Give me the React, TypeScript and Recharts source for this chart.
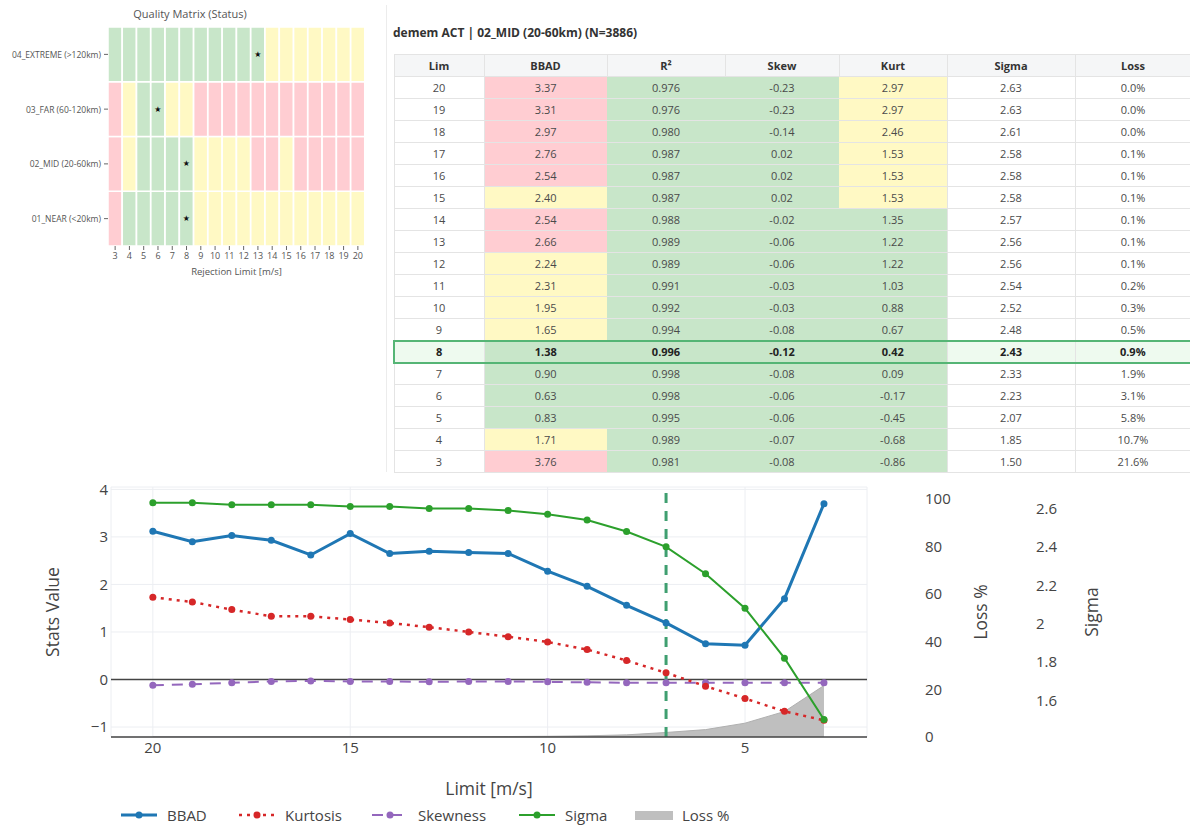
import React from 'react';
import {
  BarChart, Bar, Cell, LabelList, XAxis, YAxis, Label,
  ComposedChart, Line, Area, CartesianGrid, ReferenceLine, Legend,
} from 'recharts';

const FONT = '"Open Sans", "Noto Sans", sans-serif';

// ---- quality matrix (heatmap) ----
const MATRIX_LIMITS = [3, 4, 5, 6, 7, 8, 9, 10, 11, 12, 13, 14, 15, 16, 17, 18, 19, 20];
const MATRIX_ROW_NAMES = ['01_NEAR (<20km)', '02_MID (20-60km)', '03_FAR (60-120km)', '04_EXTREME (>120km)'];
const NEAR_STATUS = ['r', 'g', 'g', 'g', 'g', 'g', 'y', 'y', 'y', 'y', 'y', 'y', 'y', 'y', 'y', 'y', 'y', 'y'];
const MID_STATUS = ['r', 'y', 'g', 'g', 'g', 'g', 'y', 'y', 'y', 'y', 'r', 'r', 'y', 'r', 'r', 'r', 'r', 'r'];
const FAR_STATUS = ['r', 'y', 'g', 'g', 'y', 'y', 'r', 'r', 'r', 'r', 'r', 'r', 'r', 'r', 'r', 'r', 'r', 'r'];
const EXTREME_STATUS = ['g', 'g', 'g', 'g', 'g', 'g', 'g', 'g', 'g', 'g', 'g', 'y', 'y', 'y', 'y', 'y', 'y', 'y'];
const BEST_LIMIT = { near: 8, mid: 8, far: 6, extreme: 13 };

// ---- table ----
const TABLE_LIMITS = [20, 19, 18, 17, 16, 15, 14, 13, 12, 11, 10, 9, 8, 7, 6, 5, 4, 3];
const TABLE_BBAD = [3.37, 3.31, 2.97, 2.76, 2.54, 2.40, 2.54, 2.66, 2.24, 2.31, 1.95, 1.65, 1.38, 0.90, 0.63, 0.83, 1.71, 3.76];
const TABLE_BBAD_STATUS = ['r', 'r', 'r', 'r', 'r', 'y', 'r', 'r', 'y', 'y', 'y', 'y', 'g', 'g', 'g', 'g', 'y', 'r'];
const TABLE_R2 = [0.976, 0.976, 0.980, 0.987, 0.987, 0.987, 0.988, 0.989, 0.989, 0.991, 0.992, 0.994, 0.996, 0.998, 0.998, 0.995, 0.989, 0.981];
const TABLE_SKEW = [-0.23, -0.23, -0.14, 0.02, 0.02, 0.02, -0.02, -0.06, -0.06, -0.03, -0.03, -0.08, -0.12, -0.08, -0.06, -0.06, -0.07, -0.08];
const TABLE_KURT = [2.97, 2.97, 2.46, 1.53, 1.53, 1.53, 1.35, 1.22, 1.22, 1.03, 0.88, 0.67, 0.42, 0.09, -0.17, -0.45, -0.68, -0.86];
const TABLE_KURT_STATUS = ['y', 'y', 'y', 'y', 'y', 'y', 'g', 'g', 'g', 'g', 'g', 'g', 'g', 'g', 'g', 'g', 'g', 'g'];
const TABLE_SIGMA = [2.63, 2.63, 2.61, 2.58, 2.58, 2.58, 2.57, 2.56, 2.56, 2.54, 2.52, 2.48, 2.43, 2.33, 2.23, 2.07, 1.85, 1.50];
const TABLE_LOSS = [0.0, 0.0, 0.0, 0.1, 0.1, 0.1, 0.1, 0.1, 0.1, 0.2, 0.3, 0.5, 0.9, 1.9, 3.1, 5.8, 10.7, 21.6];
const TABLE_BEST = 8;
const TABLE_HEADERS = ['Lim', 'BBAD', 'R²', 'Skew', 'Kurt', 'Sigma', 'Loss'];

// ---- stats line chart ----
const LIMITS = [20, 19, 18, 17, 16, 15, 14, 13, 12, 11, 10, 9, 8, 7, 6, 5, 4, 3];
const BBAD = [3.12, 2.90, 3.03, 2.93, 2.62, 3.07, 2.65, 2.70, 2.67, 2.65, 2.28, 1.96, 1.56, 1.19, 0.75, 0.72, 1.70, 3.70];
const KURTOSIS = [1.73, 1.63, 1.47, 1.33, 1.33, 1.26, 1.19, 1.10, 1.00, 0.90, 0.79, 0.63, 0.40, 0.14, -0.14, -0.40, -0.67, -0.86];
const SKEWNESS = [-0.12, -0.10, -0.07, -0.04, -0.03, -0.04, -0.04, -0.05, -0.04, -0.04, -0.05, -0.06, -0.07, -0.07, -0.07, -0.07, -0.07, -0.07];
const SIGMA = [2.63, 2.63, 2.62, 2.62, 2.62, 2.61, 2.61, 2.60, 2.60, 2.59, 2.57, 2.54, 2.48, 2.40, 2.26, 2.08, 1.82, 1.50];
const LOSS = [0.0, 0.0, 0.0, 0.1, 0.1, 0.1, 0.1, 0.1, 0.1, 0.2, 0.3, 0.5, 0.9, 1.9, 3.1, 5.8, 10.7, 21.6];
const CHART_BEST_LIMIT = 7;
const X_TICKS = [20, 15, 10, 5];
const STATS_TICKS = [-1, 0, 1, 2, 3, 4];
const LOSS_TICKS = [0, 20, 40, 60, 80, 100];
const SIGMA_TICKS = [1.6, 1.8, 2, 2.2, 2.4, 2.6];

const STATUS_COLOR: Record<string, string> = { g: '#c8e6c9', y: '#fff9c4', r: '#ffcdd2' };

const matrixData = MATRIX_LIMITS.map((lim) => ({ lim, near: 1, mid: 1, far: 1, extreme: 1 }));
const matrixRows = [
  { key: 'near', status: NEAR_STATUS, best: BEST_LIMIT.near },
  { key: 'mid', status: MID_STATUS, best: BEST_LIMIT.mid },
  { key: 'far', status: FAR_STATUS, best: BEST_LIMIT.far },
  { key: 'extreme', status: EXTREME_STATUS, best: BEST_LIMIT.extreme },
];

const lineData = LIMITS.map((lim, i) => ({
  lim,
  bbad: BBAD[i],
  kurtosis: KURTOSIS[i],
  skewness: SKEWNESS[i],
  sigma: SIGMA[i],
  loss: LOSS[i],
}));

const SERIES = [
  { name: 'BBAD', color: '#1f77b4', width: 3, dash: '', legendWidth: 118 },
  { name: 'Kurtosis', color: '#d62728', width: 2.5, dash: '3 5', legendWidth: 133 },
  { name: 'Skewness', color: '#9467bd', width: 2, dash: '11 8', legendWidth: 147 },
  { name: 'Sigma', color: '#2ca02c', width: 2, dash: '', legendWidth: 117 },
];

const minus = (v: number) => String(v).replace('-', '\u2212');

function MatrixRowTick(p: any) {
  return (
    <text x={p.x} y={p.y} textAnchor="end" dominantBaseline="central" fontSize={8.5} fill="#555" fontFamily={FONT}>
      {MATRIX_ROW_NAMES[Math.floor(p.payload.value)]}
    </text>
  );
}

function QualityMatrix() {
  return (
    <div style={{ position: 'absolute', left: 0, top: 0, width: 385, height: 290 }}>
      <div style={{ position: 'absolute', left: 90, top: 6, width: 200, textAlign: 'center', fontFamily: FONT, fontSize: 11, lineHeight: '16px', color: '#555' }}>
        Quality Matrix (Status)
      </div>
      <BarChart width={385} height={290} data={matrixData} margin={{ top: 27, right: 20, bottom: 0, left: 0 }} barCategoryGap={0}>
        <XAxis
          dataKey="lim"
          height={44}
          axisLine={false}
          tickSize={4}
          tickMargin={3}
          tickLine={{ stroke: '#666' }}
          interval={0}
          tick={{ fontSize: 9, fill: '#555', fontFamily: FONT }}
        >
          <Label
            content={(p: any) => (
              <text x={p.viewBox.x + p.viewBox.width / 2} y={p.viewBox.y + 29} textAnchor="middle" fontSize={9.5} fill="#555" fontFamily={FONT}>
                Rejection Limit [m/s]
              </text>
            )}
          />
        </XAxis>
        <YAxis
          type="number"
          width={108}
          domain={[0, 4]}
          ticks={[0.5, 1.5, 2.5, 3.5]}
          interval={0}
          axisLine={false}
          tickSize={4}
          tickMargin={3}
          tickLine={{ stroke: '#666' }}
          tick={<MatrixRowTick />}
        />
        {matrixRows.map((row) => (
          <Bar key={row.key} dataKey={row.key} stackId="m" stroke="#ffffff" strokeWidth={1.5} isAnimationActive={false}>
            {matrixData.map((d, i) => (
              <Cell key={d.lim} fill={STATUS_COLOR[row.status[i]]} />
            ))}
            <LabelList
              dataKey="lim"
              content={(p: any) =>
                p.value === row.best ? (
                  <text x={p.x + p.width / 2} y={p.y + p.height / 2} textAnchor="middle" dominantBaseline="central" fontSize={8} fill="#111" fontFamily="DejaVu Sans">
                    ★
                  </text>
                ) : null
              }
            />
          </Bar>
        ))}
      </BarChart>
    </div>
  );
}

const COL_WIDTHS = [90, 123, 118, 114, 108, 128, 116];

function StatsTable() {
  const border = '1px solid #e4e4e4';
  const best = '2px solid #55b575';
  return (
    <>
      <div style={{ position: 'absolute', left: 386, top: 5, height: 467, borderLeft: '1px solid #ececec' }} />
      <div style={{ position: 'absolute', left: 393, top: 25, fontFamily: FONT, fontSize: 12, fontWeight: 700, lineHeight: '16px', color: '#333', whiteSpace: 'nowrap' }}>
        demem ACT | 02_MID (20-60km) (N=3886)
      </div>
      <table
        style={{
          position: 'absolute', left: 393, top: 54, width: 797, borderCollapse: 'collapse', tableLayout: 'fixed',
          fontFamily: FONT, fontSize: 11, color: '#4a4a4a', textAlign: 'center',
        }}
      >
        <colgroup>
          {COL_WIDTHS.map((w, i) => <col key={i} style={{ width: w }} />)}
        </colgroup>
        <thead>
          <tr style={{ height: 22 }}>
            {TABLE_HEADERS.map((h) => (
              <th key={h} style={{ border, background: '#f5f6f7', fontWeight: 700, color: '#333', padding: 0 }}>{h}</th>
            ))}
          </tr>
        </thead>
        <tbody>
          {TABLE_LIMITS.map((lim, i) => {
            const isBest = lim === TABLE_BEST;
            const plain = isBest ? '#eefaef' : '#ffffff';
            const cells = [
              { text: String(lim), bg: plain },
              { text: TABLE_BBAD[i].toFixed(2), bg: STATUS_COLOR[TABLE_BBAD_STATUS[i]] },
              { text: TABLE_R2[i].toFixed(3), bg: STATUS_COLOR.g },
              { text: TABLE_SKEW[i].toFixed(2), bg: STATUS_COLOR.g },
              { text: TABLE_KURT[i].toFixed(2), bg: STATUS_COLOR[TABLE_KURT_STATUS[i]] },
              { text: TABLE_SIGMA[i].toFixed(2), bg: plain },
              { text: TABLE_LOSS[i].toFixed(1) + '%', bg: plain },
            ];
            return (
              <tr key={lim} style={{ height: 22 }}>
                {cells.map((c, j) => (
                  <td
                    key={j}
                    style={{
                      padding: 0,
                      background: c.bg,
                      fontWeight: isBest ? 700 : 400,
                      color: isBest ? '#222' : '#4a4a4a',
                      borderTop: isBest ? best : border,
                      borderBottom: isBest ? best : border,
                      borderLeft: isBest && j === 0 ? best : j === 0 || j >= 5 ? border : 'none',
                      borderRight: isBest && j === 6 ? best : j === 0 || j >= 4 ? border : 'none',
                    }}
                  >
                    {c.text}
                  </td>
                ))}
              </tr>
            );
          })}
        </tbody>
      </table>
    </>
  );
}

function LegendIcon({ color, dash, width }: { color: string; dash: string; width: number }) {
  return (
    <svg width={40} height={14}>
      <line x1={2} y1={7} x2={38} y2={7} stroke={color} strokeWidth={width} strokeDasharray={dash || undefined} />
      <circle cx={20} cy={7} r={3.5} fill={color} />
    </svg>
  );
}

function PlotLegend() {
  return (
    <div style={{ display: 'flex', alignItems: 'center', height: 20, paddingLeft: 119, fontFamily: FONT, fontSize: 15, color: '#444' }}>
      {SERIES.map((s) => (
        <div key={s.name} style={{ display: 'flex', alignItems: 'center', width: s.legendWidth }}>
          <LegendIcon color={s.color} dash={s.dash} width={s.width} />
          <span style={{ marginLeft: 8 }}>{s.name}</span>
        </div>
      ))}
      <div style={{ display: 'flex', alignItems: 'center' }}>
        <svg width={40} height={14}>
          <rect x={1} y={3} width={38} height={9} fill="#bfbfbf" />
        </svg>
        <span style={{ marginLeft: 8 }}>Loss %</span>
      </div>
    </div>
  );
}

const tickStyle = { fontSize: 15, fill: '#444', fontFamily: FONT };

function axisTitle(text: string, dx: number) {
  return (p: any) => {
    const cx = p.viewBox.x + dx;
    const cy = p.viewBox.y + p.viewBox.height / 2;
    return (
      <text x={cx} y={cy} transform={`rotate(-90, ${cx}, ${cy})`} textAnchor="middle" dominantBaseline="central" fontSize={17.5} fill="#444" fontFamily={FONT}>
        {text}
      </text>
    );
  };
}

function StatsChart() {
  return (
    <div style={{ position: 'absolute', left: 0, top: 475, width: 1190, height: 350 }}>
      <ComposedChart width={1190} height={350} data={lineData} margin={{ top: 12, right: 0, bottom: 0, left: 0 }}>
        <CartesianGrid yAxisId="stats" stroke="#eceef2" strokeWidth={1} />
        <XAxis
          dataKey="lim"
          type="number"
          domain={[1.91, 21.06]}
          reversed
          allowDataOverflow
          ticks={X_TICKS}
          interval={0}
          height={68}
          tickLine={false}
          tickSize={0}
          tickMargin={5}
          axisLine={{ stroke: '#444', strokeWidth: 1.5 }}
          tick={tickStyle}
        >
          <Label
            content={(p: any) => (
              <text x={p.viewBox.x + p.viewBox.width / 2} y={p.viewBox.y + 51} textAnchor="middle" dominantBaseline="central" fontSize={17.5} fill="#444" fontFamily={FONT}>
                Limit [m/s]
              </text>
            )}
          />
        </XAxis>
        <YAxis
          yAxisId="stats"
          width={111}
          domain={[-1.21, 4.05]}
          allowDataOverflow
          ticks={STATS_TICKS}
          interval={0}
          axisLine={false}
          tickLine={false}
          tickSize={0}
          tickMargin={3}
          tickFormatter={minus}
          tick={tickStyle}
        >
          <Label content={axisTitle('Stats Value', 52)} />
        </YAxis>
        <YAxis
          yAxisId="loss"
          orientation="right"
          width={125}
          domain={[0, 104.9]}
          allowDataOverflow
          ticks={LOSS_TICKS}
          interval={0}
          axisLine={false}
          tickLine={false}
          tickSize={0}
          tickMargin={58}
          tick={tickStyle}
        >
          <Label content={axisTitle('Loss %', 113)} />
        </YAxis>
        <YAxis
          yAxisId="sigma"
          orientation="right"
          width={198}
          domain={[1.409, 2.712]}
          allowDataOverflow
          ticks={SIGMA_TICKS}
          interval={0}
          axisLine={false}
          tickLine={false}
          tickSize={0}
          tickMargin={44}
          tickFormatter={(v: number) => String(Math.round(v * 10) / 10)}
          tick={tickStyle}
        >
          <Label content={axisTitle('Sigma', 99)} />
        </YAxis>
        <Area
          yAxisId="loss"
          type="linear"
          dataKey="loss"
          name="Loss %"
          fill="#bfbfbf"
          fillOpacity={1}
          stroke="#b0b0b0"
          strokeWidth={1}
          dot={false}
          isAnimationActive={false}
        />
        <ReferenceLine yAxisId="stats" y={0} stroke="#444" strokeWidth={1.5} />
        <Line
          yAxisId="stats" type="linear" dataKey="skewness" name="Skewness"
          stroke={SERIES[2].color} strokeWidth={SERIES[2].width} strokeDasharray={SERIES[2].dash}
          dot={{ r: 3.5, fill: SERIES[2].color, stroke: SERIES[2].color, strokeWidth: 0 }} isAnimationActive={false}
        />
        <Line
          yAxisId="stats" type="linear" dataKey="kurtosis" name="Kurtosis"
          stroke={SERIES[1].color} strokeWidth={SERIES[1].width} strokeDasharray={SERIES[1].dash}
          dot={{ r: 3.5, fill: SERIES[1].color, stroke: SERIES[1].color, strokeWidth: 0 }} isAnimationActive={false}
        />
        <Line
          yAxisId="stats" type="linear" dataKey="bbad" name="BBAD"
          stroke={SERIES[0].color} strokeWidth={SERIES[0].width}
          dot={{ r: 3.5, fill: SERIES[0].color, stroke: SERIES[0].color, strokeWidth: 0 }} isAnimationActive={false}
        />
        <Line
          yAxisId="sigma" type="linear" dataKey="sigma" name="Sigma"
          stroke={SERIES[3].color} strokeWidth={SERIES[3].width}
          dot={{ r: 3.5, fill: SERIES[3].color, stroke: SERIES[3].color, strokeWidth: 0 }} isAnimationActive={false}
        />
        <ReferenceLine yAxisId="stats" x={CHART_BEST_LIMIT} stroke="#3f9f70" strokeWidth={3} strokeDasharray="10 8" />
        <Legend verticalAlign="bottom" height={20} content={() => <PlotLegend />} />
      </ComposedChart>
    </div>
  );
}

export default function App() {
  return (
    <div style={{ position: 'absolute', left: 0, top: 0, width: 1190, height: 825, overflow: 'hidden', background: '#ffffff' }}>
      <QualityMatrix />
      <StatsTable />
      <StatsChart />
    </div>
  );
}
